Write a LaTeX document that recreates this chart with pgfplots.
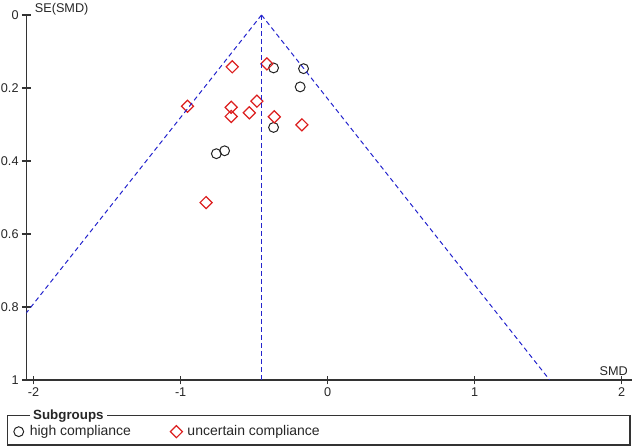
\documentclass[border=0pt]{standalone}
\usepackage{pgfplots}
\pgfplotsset{compat=1.18}
\usepackage{fontspec}
\setmainfont{Liberation Sans}
\definecolor{funnelblue}{RGB}{35,35,205}
\definecolor{mred}{RGB}{220,30,30}
\definecolor{mblack}{RGB}{35,35,35}
\begin{document}
\begin{tikzpicture}
\begin{axis}[
  scale only axis,
  width=454.3pt, height=273.75pt,
  xmin=-2.05, xmax=2.07, ymin=0, ymax=1,
  y dir=reverse,
  axis x line=bottom, axis y line=left,
  axis line style={-, black!80, line width=0.8pt},
  xtick={-2,-1,0,1,2}, xticklabels={-2,-1,0,1,2},
  ytick={0,0.2,0.4,0.6,0.8,1}, yticklabels={0,0.2,0.4,0.6,0.8,1},
  tick align=center, major tick length=6.5pt,
  tick style={black!80, line width=0.8pt},
  ticklabel style={font=\fontsize{9.5}{11}\selectfont, text=black!85},
  xticklabel style={yshift=1pt},
  yticklabel style={xshift=1pt},
  legend columns=2,
  legend style={at={(axis description cs:-0.021,-0.1416)}, anchor=west,
    draw=none, fill=none, inner sep=0pt,
    font=\fontsize{10.5}{12}\selectfont,
    nodes={inner xsep=1.5pt, inner ysep=1pt, text=black!85},
    /tikz/every even column/.append style={column sep=28pt}},
  legend image code/.code={\draw[mark repeat=2,mark phase=2,#1] plot coordinates {(0cm,0cm)(0.13cm,0cm)(0.26cm,0cm)}; \path[draw=none,fill=none] (0cm,0cm) -- (0.37cm,0cm);},
  clip mode=individual,
]
\addplot[only marks, mark=o, mark size=3.7pt, mblack, line width=0.75pt] coordinates {
  (-0.368,0.145) (-0.164,0.147) (-0.187,0.197) (-0.368,0.308) (-0.701,0.372) (-0.757,0.380)
};
\addlegendentry{high compliance}
\addplot[only marks, mark=square, mark size=3.2pt, mark options={rotate=45}, mred, line width=0.9pt] coordinates {
  (-0.649,0.142) (-0.413,0.134) (-0.953,0.250) (-0.656,0.253) (-0.656,0.278)
  (-0.533,0.268) (-0.481,0.236) (-0.363,0.279) (-0.175,0.301) (-0.827,0.514)
};
\addlegendentry{uncertain compliance}
\addplot[funnelblue, dashed, dash pattern=on 3.5pt off 2.5pt, line width=0.75pt, forget plot] coordinates {(-0.45,0) (-2.41,1)};
\addplot[funnelblue, dashed, dash pattern=on 3.5pt off 2.5pt, line width=0.75pt, forget plot] coordinates {(-0.45,0) (1.51,1)};
\addplot[funnelblue, dashed, dash pattern=on 3.5pt off 2.5pt, line width=0.85pt, forget plot] coordinates {(-0.45,0) (-0.45,1)};
\end{axis}
\node[anchor=west, font=\fontsize{9.5}{11}\selectfont, text=black!85, inner sep=0pt] at (6.3pt,278.25pt) {SE(SMD)};
\node[anchor=east, font=\fontsize{9.5}{11}\selectfont, text=black!85, inner sep=0pt] at (451.3pt,6.8pt) {SMD};
\draw[black!80, line width=0.8pt] (-14.25pt,-26.8pt) rectangle (452.8pt,-48.75pt);
\node[anchor=west, fill=white, inner xsep=2.5pt, inner ysep=0pt, font=\bfseries\fontsize{10}{12}\selectfont, text=black!85] at (2.5pt,-26.8pt) {Subgroups};
\pgfresetboundingbox
\path[use as bounding box] (-19.7pt,285pt) rectangle (454.3pt,-51pt);
\end{tikzpicture}
\end{document}
